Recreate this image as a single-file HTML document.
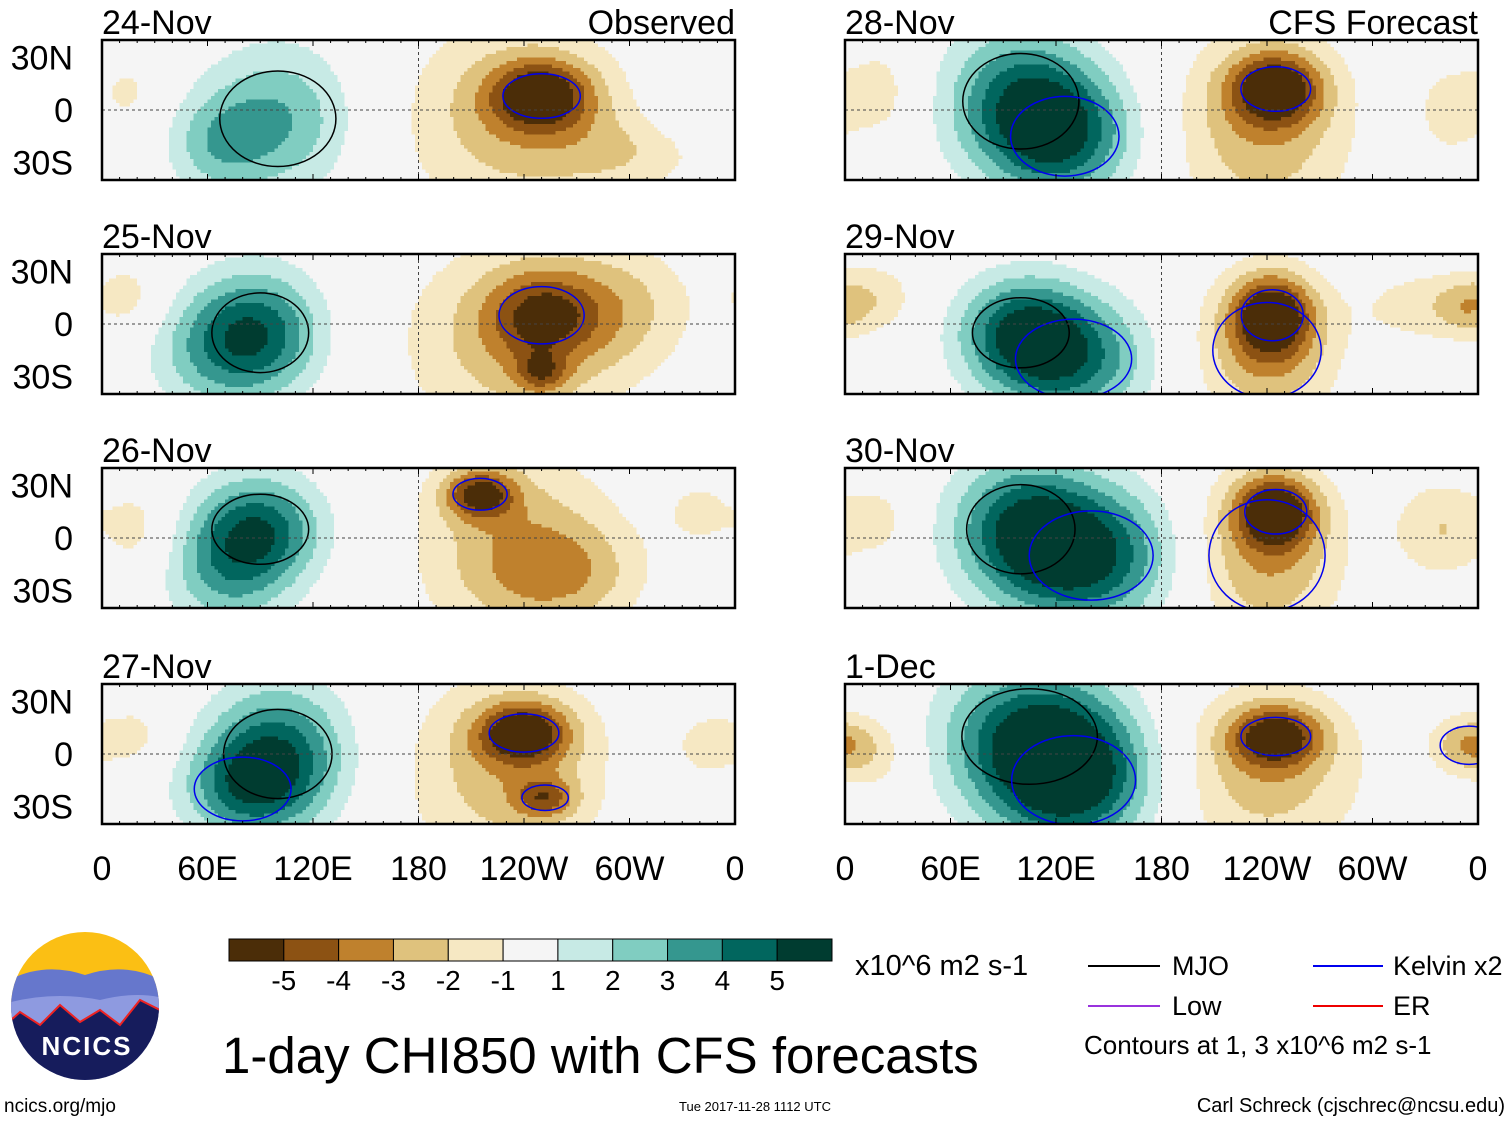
<!DOCTYPE html>
<html><head><meta charset="utf-8">
<style>
body{margin:0;background:#fff;font-family:"Liberation Sans",Arial,sans-serif;}
#wrap{position:relative;width:1510px;height:1121px;overflow:hidden;}
canvas{position:absolute;image-rendering:pixelated;}
svg{position:absolute;left:0;top:0;}
</style></head><body>
<div id="wrap">
<svg id="svg" width="1510" height="1121"></svg>
</div>
<script>
// ---- data ----
const panelTitles = ["24-Nov","25-Nov","26-Nov","27-Nov","28-Nov","29-Nov","30-Nov","1-Dec"];
const levels = [-5,-4,-3,-2,-1,1,2,3,4,5];
const levelLabels = ["-5","-4","-3","-2","-1","1","2","3","4","5"];
const colors = ["#4b2d08","#8c5213","#bf812d","#dfc27d","#f6e8c3","#f5f5f5","#c7eae5","#80cdc1","#35978f","#01665e","#003c30"];
const xTicks = [0,60,120,180,240,300,360];
const xTickLabels = ["0","60E","120E","180","120W","60W","0"];
const yTicks = [30,0,-30];
const yTickLabels = ["30N","0","30S"];
// blobs per panel: [lon, lat, value, lonWidth, latWidth]
const blobs0 = [[100,-5,3.0,30,30],[65,-20,2.0,20,20],[250,8,-4.8,20,14],[235,-5,-2.6,45,40],[300,-25,-1.3,30,15],[330,10,1.2,12,15],[15,10,-1.2,15,15]];
const blobs1 = [[90,-5,4.3,25,25],[60,-15,2.2,25,25],[250,5,-3.2,22,18],[235,-10,-2.5,45,40],[295,10,-1.8,30,25],[15,15,-1.5,15,15],[250,-28,-2.6,10,8]];
const blobs2 = [[90,5,4.3,25,22],[70,-20,2.6,25,25],[215,25,-4.4,14,10],[235,-5,-2.6,40,40],[265,-20,-1.8,30,20],[20,5,-1.5,15,18],[340,15,-1.2,15,15]];
const blobs3 = [[100,0,4.5,28,28],[80,-20,3.0,25,20],[240,12,-5,18,12],[230,-10,-2.6,40,40],[252,-25,-3.0,12,8],[345,5,-1.4,15,15],[20,10,-1.3,15,15]];
const blobs4 = [[100,5,4.2,30,30],[125,-15,4.0,28,25],[245,12,-5,18,14],[238,-10,-2.8,35,40],[20,10,-1.5,15,20],[345,0,-1.5,15,20]];
const blobs5 = [[100,-5,4.5,25,22],[130,-20,4.0,30,25],[243,5,-5,16,16],[240,-15,-3,28,30],[330,10,-1.6,25,15],[20,15,-1.5,15,15],[355,10,-1.8,12,12]];
const blobs6 = [[100,5,4.5,28,28],[140,-10,5,32,28],[245,15,-5.2,16,14],[240,-10,-3.0,30,35],[340,5,-2.0,20,20],[20,10,-1.3,12,15]];
const blobs7 = [[105,10,4.5,35,30],[130,-15,5,32,28],[245,10,-4.6,18,12],[240,-10,-2.6,38,35],[355,5,-3,15,12],[20,0,-1.3,15,18]];
const panelBlobs = [blobs0,blobs1,blobs2,blobs3,blobs4,blobs5,blobs6,blobs7];

// ---- layout ----
const W=633,H=140;
const colX=[102,845], rowY=[40,254,468,684];
const svg=document.getElementById('svg');
const NS='http://www.w3.org/2000/svg';
function mk(tag,attrs,parent){const e=document.createElementNS(NS,tag);for(const k in attrs)e.setAttribute(k,attrs[k]);(parent||svg).appendChild(e);return e;}
function xs(px,lon){return px+lon/360*W;}
function ys(py,lat){return py+H/2-lat*(H/80);}
function colorFor(v){let i=0;while(i<levels.length&&v>=levels[i])i++;return colors[i];}
const defs=mk('defs',{});

panelBlobs.forEach((bl,p)=>{
  const px=colX[p<4?0:1], py=rowY[p%4];
  const cv=document.createElement('canvas');
  cv.width=180;cv.height=40;
  cv.style.left=px+'px';cv.style.top=py+'px';cv.style.width=W+'px';cv.style.height=H+'px';
  
  
  document.getElementById('wrap').insertBefore(cv,svg);
  const c=cv.getContext('2d');
  for(let i=0;i<180;i++)for(let j=0;j<40;j++){
    const lon=i*2+1, lat=40-j*2-1;
    let v=0;
    bl.forEach(b=>{let dl=Math.abs(lon-b[0]);if(dl>180)dl=360-dl;v+=b[2]*Math.exp(-(dl*dl)/(2*b[3]*b[3])-((lat-b[1])**2)/(2*b[4]*b[4]));});
    c.fillStyle=colorFor(v);c.fillRect(i,j,1,1);
  }
  const cp=mk('clipPath',{id:'cp'+p},defs);
  mk('rect',{x:px,y:py,width:W,height:H},cp);
  const g=mk('g',{});
  
  
  const cg=mk('g',{'clip-path':'url(#cp'+p+')'},g);
  bl.forEach((b,k)=>{
    if(Math.abs(b[2])<3)return;
    const col=b[2]>0?(k%2?'#0000ee':'#000'):'#0000ee';
    const e=mk('ellipse',{cx:xs(px,b[0]),cy:ys(py,b[1]),rx:b[3]*1.76*1.1,ry:b[4]*1.77*0.9,fill:'none',stroke:col,'stroke-width':1.5},cg);
    
    
  });
  mk('line',{x1:px,x2:px+W,y1:ys(py,0),y2:ys(py,0),stroke:'#444','stroke-dasharray':'3,3','stroke-width':1},g);
  mk('line',{x1:xs(px,180),x2:xs(px,180),y1:py,y2:py+H,stroke:'#444','stroke-dasharray':'3,3','stroke-width':1},g);
  const fr=mk('rect',{x:px,y:py,width:W,height:H,fill:'none',stroke:'#000','stroke-width':2.5},g);
  
  
  for(let l=0;l<=360;l+=10){const t=l%60==0?6:3;
    mk('line',{x1:xs(px,l),x2:xs(px,l),y1:py,y2:py+t,stroke:'#000'},g);
    mk('line',{x1:xs(px,l),x2:xs(px,l),y1:py+H,y2:py+H-t,stroke:'#000'},g);}
  const t=mk('text',{x:px,y:py-6,'font-size':34},g);t.textContent=panelTitles[p];
  
  
  if(p==0){const o=mk('text',{x:px+W,y:py-6,'font-size':34,'text-anchor':'end'},g);o.textContent='Observed';
    }
  if(p==4){const o=mk('text',{x:px+W,y:py-6,'font-size':34,'text-anchor':'end'},g);o.textContent='CFS Forecast';
    }
  if(p<4){yTicks.forEach((lt,k)=>{const yl=mk('text',{x:73,y:ys(py,lt)+12,'font-size':34,'text-anchor':'end'},g);yl.textContent=yTickLabels[k];
    });}
  if(p%4==3){xTicks.forEach((lt,k)=>{const xl=mk('text',{x:xs(px,lt),y:880,'font-size':34,'text-anchor':'middle'},g);xl.textContent=xTickLabels[k];
    });}
});

// colorbar
const cb=mk('g',{});


const bw=603/colors.length;
colors.forEach((c,i)=>{mk('rect',{x:229+i*bw,y:939,width:bw,height:22,fill:c,stroke:'#000','stroke-width':1},cb);});
levelLabels.forEach((l,i)=>{const t=mk('text',{x:229+(i+1)*bw,y:990,'font-size':28,'text-anchor':'middle'},cb);t.textContent=l;
  });
</script>
<svg width="1510" height="1121" style="position:absolute;left:0;top:0">
<text x="855" y="975" font-size="29">x10^6 m2 s-1</text>
<text x="222" y="1073" font-size="51">1-day CHI850 with CFS forecasts</text>
<g font-size="27">
<line x1="1088" x2="1160" y1="966" y2="966" stroke="#000" stroke-width="2"/><text x="1172" y="975">MJO</text>
<line x1="1088" x2="1160" y1="1006" y2="1006" stroke="#9933dd" stroke-width="2"/><text x="1172" y="1015">Low</text>
<line x1="1313" x2="1383" y1="966" y2="966" stroke="#0000ee" stroke-width="2"/><text x="1393" y="975">Kelvin x2</text>
<line x1="1313" x2="1383" y1="1006" y2="1006" stroke="#ee0000" stroke-width="2"/><text x="1393" y="1015">ER</text>
<text x="1084" y="1054" font-size="26">Contours at 1, 3 x10^6 m2 s-1</text>
</g>
<g>
<clipPath id="cl"><circle cx="85" cy="1006" r="74"/></clipPath>
<g clip-path="url(#cl)">
<rect x="0" y="930" width="170" height="160" fill="#fbbf14"/>
<path d="M0 985 Q40 960 85 975 Q130 960 170 985 L170 1090 L0 1090Z" fill="#6677cc"/>
<path d="M0 1005 Q50 990 100 1000 Q140 990 170 1000 L170 1090 L0 1090Z" fill="#8e9ae0"/>
<path d="M0 1030 L20 1012 L40 1025 L60 1005 L80 1022 L100 1010 L120 1025 L140 1000 L170 1015 L170 1090 L0 1090Z" fill="#161c5c" stroke="#ee2222" stroke-width="2"/>
</g>
<text x="87" y="1055" font-size="26" font-weight="bold" fill="#fff" text-anchor="middle" letter-spacing="2">NCICS</text>
</g>
<text x="4" y="1112" font-size="19">ncics.org/mjo</text>
<text x="755" y="1111" font-size="13" text-anchor="middle">Tue 2017-11-28 1112 UTC</text>
<text x="1505" y="1112" font-size="20" text-anchor="end">Carl Schreck (cjschrec@ncsu.edu)</text>
</svg>
</body></html>
